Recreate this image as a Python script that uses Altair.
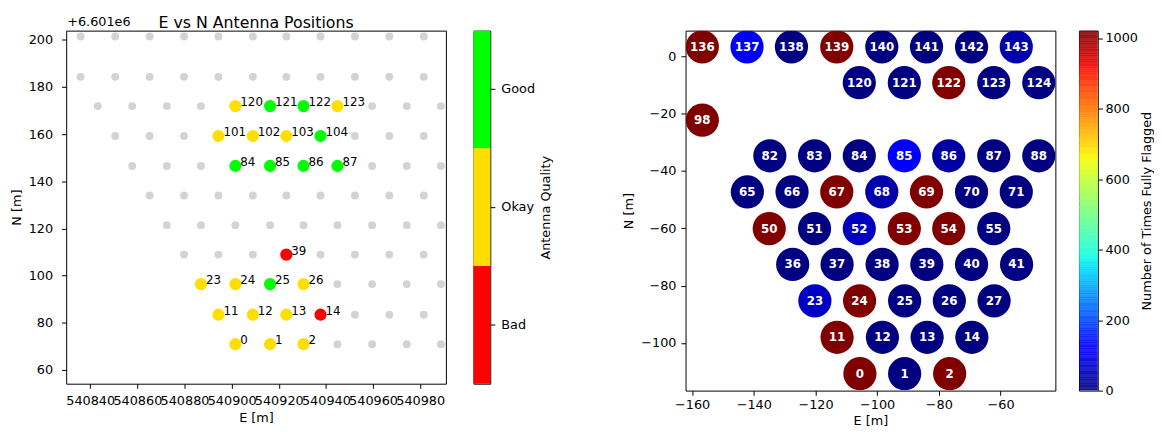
import altair as alt
import pandas as pd

FONT = "DejaVu Sans"

# ---------------- Left panel: E vs N antenna positions ----------------
LEFT_TITLE = "E vs N Antenna Positions"
N_OFFSET_TEXT = "+6.601e6"

GRAY_ROW_N = [201.4, 184.3, 171.9, 159.2, 146.5, 134.0, 121.4, 108.9, 96.4, 83.4, 70.9]
GRAY_ROW_E = [
    [540835.9, 540850.6, 540865.2, 540879.8, 540894.4, 540909.0, 540923.2, 540937.7, 540952.3, 540966.9, 540981.5],
    [540835.9, 540850.6, 540865.2, 540879.8, 540894.4, 540909.0, 540923.2, 540937.7, 540952.3, 540966.9, 540981.5],
    [540843.2, 540857.8, 540872.5, 540887.0, 540959.6, 540974.3, 540988.8],
    [540850.6, 540865.2, 540879.8, 540952.3, 540966.9, 540981.5],
    [540857.8, 540872.5, 540887.0, 540959.6, 540974.3, 540988.8],
    [540865.2, 540879.8, 540894.4, 540909.0, 540923.2, 540937.7, 540952.3, 540966.9, 540981.5],
    [540872.5, 540887.0, 540901.6, 540916.3, 540930.5, 540944.9, 540959.6, 540974.3, 540988.8],
    [540879.8, 540894.4, 540909.0, 540937.7, 540952.3, 540966.9, 540981.5],
    [540944.9, 540959.6, 540974.3, 540988.8],
    [540952.3, 540966.9, 540981.5],
    [540944.9, 540959.6, 540974.3, 540988.8],
]

Q_ANT = [0, 1, 2, 11, 12, 13, 14, 23, 24, 25, 26, 39,
         84, 85, 86, 87, 101, 102, 103, 104, 120, 121, 122, 123]
Q_E = [540901.6, 540916.3, 540930.5,
       540894.4, 540909.0, 540923.2, 540937.7,
       540887.0, 540901.6, 540916.3, 540930.5,
       540923.2,
       540901.6, 540916.3, 540930.5, 540944.9,
       540894.4, 540909.0, 540923.2, 540937.7,
       540901.6, 540916.3, 540930.5, 540944.9]
Q_N = [70.9, 70.9, 70.9,
       83.4, 83.4, 83.4, 83.4,
       96.4, 96.4, 96.4, 96.4,
       108.9,
       146.5, 146.5, 146.5, 146.5,
       159.2, 159.2, 159.2, 159.2,
       171.9, 171.9, 171.9, 171.9]
Q_QUAL = ["Okay", "Okay", "Okay",
          "Okay", "Okay", "Okay", "Bad",
          "Okay", "Okay", "Good", "Okay",
          "Bad",
          "Good", "Good", "Good", "Good",
          "Okay", "Okay", "Okay", "Good",
          "Okay", "Good", "Good", "Okay"]

Q_DOMAIN = ["Bad", "Okay", "Good"]
Q_COLORS = ["#ff0000", "#ffdf00", "#00ff00"]
Q_ORDER_TOP_DOWN = ["Good", "Okay", "Bad"]

# ---------------- Right panel: flag counts ----------------
R_ANT = [136, 137, 138, 139, 140, 141, 142, 143,
         120, 121, 122, 123, 124,
         98,
         82, 83, 84, 85, 86, 87, 88,
         65, 66, 67, 68, 69, 70, 71,
         50, 51, 52, 53, 54, 55,
         36, 37, 38, 39, 40, 41,
         23, 24, 25, 26, 27,
         11, 12, 13, 14,
         0, 1, 2]
R_E = [-156.7, -142.2, -127.8, -113.1, -98.5, -84.0, -69.4, -54.9,
       -105.8, -91.2, -76.8, -62.2, -47.6,
       -156.7,
       -134.8, -120.3, -105.8, -91.2, -76.8, -62.2, -47.6,
       -142.1, -127.6, -113.1, -98.5, -84.0, -69.4, -54.9,
       -135.0, -120.3, -105.8, -91.2, -76.8, -62.2,
       -127.4, -113.0, -98.4, -83.9, -69.4, -54.8,
       -120.2, -105.7, -91.1, -76.6, -62.1,
       -113.0, -98.3, -83.8, -69.3,
       -105.6, -91.1, -76.5]
R_N = [3.3, 3.3, 3.3, 3.3, 3.3, 3.3, 3.3, 3.3,
       -9.2, -9.2, -9.2, -9.2, -9.2,
       -22.3,
       -34.7, -34.7, -34.7, -34.7, -34.7, -34.7, -34.7,
       -47.3, -47.3, -47.3, -47.3, -47.3, -47.3, -47.3,
       -60.1, -60.1, -60.1, -60.1, -60.1, -60.1,
       -72.6, -72.6, -72.6, -72.6, -72.6, -72.6,
       -85.3, -85.3, -85.3, -85.3, -85.3,
       -98.0, -98.0, -98.0, -98.0,
       -110.7, -110.7, -110.7]
R_FLAGS = [1021, 105, 0, 1021, 0, 0, 0, 40,
           0, 0, 1021, 0, 0,
           1021,
           0, 0, 0, 110, 30, 0, 0,
           0, 0, 1021, 40, 1021, 0, 0,
           1021, 0, 55, 1021, 1021, 0,
           0, 0, 0, 0, 0, 0,
           60, 1021, 0, 0, 0,
           1021, 0, 0, 0,
           1021, 0, 1021]
VMAX = 1021
CB_TICKS = [0, 200, 400, 600, 800, 1000]

# matplotlib "jet" anchor points (fraction of range -> colour)
JET_POS = [0.0, 0.11, 0.125, 0.34, 0.35, 0.375, 0.64, 0.65, 0.66, 0.89, 0.91, 1.0]
JET_COLORS = ["#000080", "#0000ff", "#0000ff", "#00dbff", "#00e6f7", "#15ffe2",
              "#efff08", "#f7f600", "#ffec00", "#ff1300", "#e80000", "#800000"]

# ---------------- build tables ----------------
gray_df = pd.DataFrame(
    [{"E": e, "N": n} for n, row in zip(GRAY_ROW_N, GRAY_ROW_E) for e in row]
)
q_df = pd.DataFrame({"ant": [str(a) for a in Q_ANT], "E": Q_E, "N": Q_N, "quality": Q_QUAL})
r_df = pd.DataFrame({"ant": [str(a) for a in R_ANT], "E": R_E, "N": R_N, "flags": R_FLAGS})

qscale = alt.Scale(domain=Q_DOMAIN, range=Q_COLORS)
jet = alt.Scale(domain=[p * VMAX for p in JET_POS], range=JET_COLORS, interpolate="rgb")

LW, LH = 385, 358
RW, RH = 375, 365

# ---------------- left scatter ----------------
xL = alt.X("E:Q",
           scale=alt.Scale(domain=[540829.8, 540990.9], nice=False, zero=False),
           axis=alt.Axis(values=list(range(540840, 540981, 20)), format="d", title="E [m]",
                         labelOverlap=False, labelFlush=False, labelPadding=6.5, titlePadding=4))
yL = alt.Y("N:Q",
           scale=alt.Scale(domain=[54.15, 203.9], nice=False, zero=False),
           axis=alt.Axis(values=list(range(60, 201, 20)), title="N [m]",
                         labelPadding=9, titlePadding=5, labelFlush=False))

gray_pts = alt.Chart(gray_df).mark_circle(size=64, color="#d3d3d3", opacity=1, clip=True).encode(x=xL, y=yL)
q_pts = alt.Chart(q_df).mark_circle(size=154, opacity=1, clip=True).encode(
    x=xL, y=yL, color=alt.Color("quality:N", scale=qscale, legend=None))
q_lab = alt.Chart(q_df).mark_text(align="left", baseline="alphabetic", dx=5, fontSize=12,
                                  font=FONT, color="black").encode(x=xL, y=yL, text="ant:N")
head_df = pd.DataFrame({"t": [N_OFFSET_TEXT, LEFT_TITLE]})
off_txt = alt.Chart(head_df).transform_filter(alt.datum.t == N_OFFSET_TEXT).mark_text(
    align="left", baseline="alphabetic", fontSize=13, font=FONT, color="black"
).encode(x=alt.value(1), y=alt.value(-5), text="t:N")
title_txt = alt.Chart(head_df).transform_filter(alt.datum.t == LEFT_TITLE).mark_text(
    align="center", baseline="alphabetic", fontSize=16, font=FONT, color="black"
).encode(x=alt.value(LW / 2), y=alt.value(-3), text="t:N")

left = alt.layer(gray_pts, q_pts, q_lab, off_txt, title_txt).properties(width=LW, height=LH)

cb1 = alt.Chart(pd.DataFrame({"quality": Q_DOMAIN})).mark_rect().encode(
    y=alt.Y("quality:N", sort=Q_ORDER_TOP_DOWN,
            scale=alt.Scale(paddingInner=0, paddingOuter=0),
            axis=alt.Axis(orient="right", title="Antenna Quality", titleAngle=270,
                          titleBaseline="top", labelPadding=6, titlePadding=5, labelAngle=0)),
    color=alt.Color("quality:N", scale=qscale, legend=None),
).properties(width=17, height=LH)

# ---------------- right scatter ----------------
xR = alt.X("E:Q", scale=alt.Scale(domain=[-162.14, -42.22], nice=False, zero=False),
           axis=alt.Axis(values=[-160, -140, -120, -100, -80, -60], title="E [m]",
                         labelPadding=3.7, titlePadding=3, labelFlush=False))
yR = alt.Y("N:Q", scale=alt.Scale(domain=[-116.6, 8.94], nice=False, zero=False),
           axis=alt.Axis(values=[-100, -80, -60, -40, -20, 0], title="N [m]",
                         labelPadding=5, titlePadding=5, labelFlush=False))

r_pts = alt.Chart(r_df).mark_circle(size=1134, opacity=1, clip=True).encode(
    x=xR, y=yR, color=alt.Color("flags:Q", scale=jet, legend=None))
r_lab = alt.Chart(r_df).mark_text(align="center", baseline="middle", fontSize=12, font=FONT,
                                  fontWeight="bold", color="white").encode(x=xR, y=yR, text="ant:N")
# blank header line so the right panel sits a little lower than the left one
r_head = alt.Chart(pd.DataFrame({"t": [" "]})).mark_text(
    align="left", baseline="alphabetic", fontSize=16, font=FONT
).encode(x=alt.value(0), y=alt.value(-6), text="t:N")

right = alt.layer(r_pts, r_lab, r_head).properties(width=RW, height=RH)

cb2 = alt.Chart(alt.sequence(0, VMAX, 1, as_="flags")).transform_calculate(
    top="datum.flags + 1.6"
).mark_rect(clip=True).encode(
    y=alt.Y("flags:Q", scale=alt.Scale(domain=[0, VMAX], nice=False, zero=False),
            axis=alt.Axis(orient="right", values=CB_TICKS, format="d",
                          title="Number of Times Fully Flagged",
                          titleAngle=270, titleBaseline="top", labelPadding=2.5, titlePadding=3)),
    y2="top:Q",
    color=alt.Color("flags:Q", scale=jet, legend=None),
).properties(width=19, height=RH)

inner1 = alt.hconcat(left, cb1, spacing=28, bounds="flush")
inner2 = alt.hconcat(right, cb2, spacing=24, bounds="flush")

chart = alt.hconcat(inner1, inner2, spacing=70).resolve_scale(color="independent").properties(
    padding={"left": 1, "top": 0, "right": 0, "bottom": 0}
).configure_axis(
    domain=False, grid=False, ticks=True, tickColor="black", tickSize=4.7, tickWidth=1,
    labelColor="black", labelFont=FONT, labelFontSize=13,
    titleColor="black", titleFont=FONT, titleFontSize=13, titleFontWeight="normal",
).configure_view(stroke="black", strokeWidth=1)

chart.save("out.html", embed_options={"renderer": "svg", "actions": False})
